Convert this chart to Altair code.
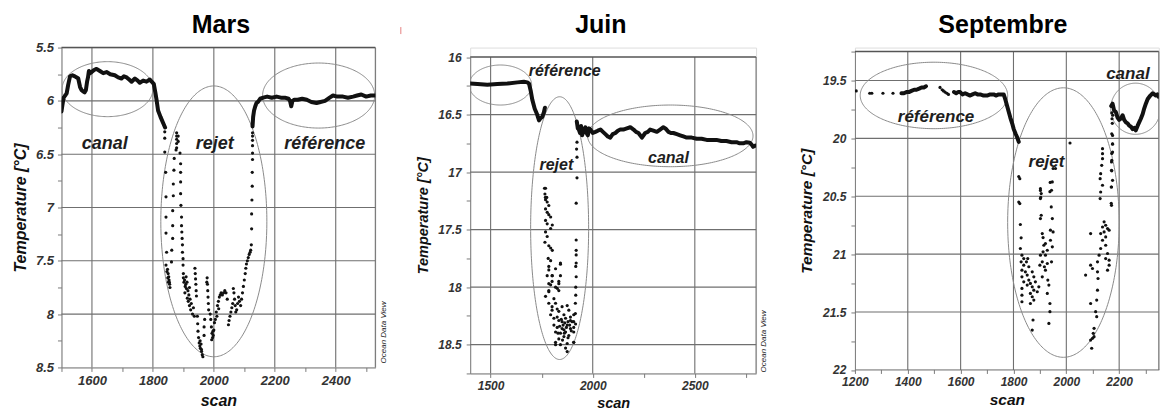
import altair as alt
import numpy as np
import pandas as pd

FONT = "Liberation Sans"
INK = "#111111"
GRID = "#6f6f6f"

# ---------------- Mars ----------------
mars_canal_scan = [1500, 1503, 1507, 1512, 1517, 1522, 1528, 1536, 1544, 1550,
                   1555, 1561, 1566, 1571, 1576, 1580, 1584, 1587, 1590, 1594,
                   1599, 1607, 1615, 1626, 1637, 1648, 1660, 1675, 1686, 1697,
                   1705, 1714, 1722, 1730, 1741, 1750, 1757, 1768, 1779, 1790,
                   1796, 1803, 1808, 1812, 1817, 1825, 1834, 1840]
mars_canal_temp = [6.10, 6.04, 5.97, 5.95, 5.93, 5.85, 5.77, 5.76, 5.77, 5.78,
                   5.79, 5.87, 5.90, 5.91, 5.92, 5.90, 5.82, 5.78, 5.72, 5.74,
                   5.73, 5.71, 5.70, 5.72, 5.74, 5.73, 5.75, 5.76, 5.78, 5.79,
                   5.77, 5.78, 5.80, 5.82, 5.79, 5.81, 5.83, 5.81, 5.82, 5.80,
                   5.82, 5.84, 5.92, 5.99, 6.09, 6.15, 6.21, 6.25]
mars_ref_scan = [2127, 2129, 2132, 2136, 2140, 2145, 2152, 2162, 2175, 2190,
                 2206, 2220, 2233, 2245, 2250, 2254, 2258, 2264, 2275, 2290,
                 2305, 2320, 2337, 2350, 2365, 2380, 2391, 2405, 2424, 2440,
                 2457, 2470, 2484, 2500, 2515, 2530]
mars_ref_temp = [6.24, 6.15, 6.09, 6.05, 6.02, 6.01, 5.98, 5.97, 5.96, 5.97,
                 5.96, 5.97, 5.97, 5.98, 6.00, 6.05, 6.00, 5.99, 5.99, 5.98,
                 5.99, 6.01, 6.02, 6.01, 6.00, 5.97, 5.95, 5.96, 5.96, 5.97,
                 5.96, 5.95, 5.94, 5.96, 5.95, 5.95]
mars_rejet = [
    (1839, 6.29), (1839, 6.35), (1839, 6.48), (1842, 6.67), (1843, 6.90), (1843, 7.09),
    (1843, 7.24), (1845, 7.42), (1843, 7.54), (1848, 7.58), (1850, 7.62), (1852, 7.65),
    (1853, 7.68), (1854, 7.70), (1855, 7.72), (1856, 7.75), (1851, 7.70), (1849, 7.66),
    (1846, 7.60),
    (1865, 7.03), (1865, 7.17), (1865, 7.29), (1862, 7.40), (1861, 7.51), (1867, 6.89),
    (1867, 6.78), (1869, 6.65), (1870, 6.54), (1878, 6.30), (1878, 6.33), (1878, 6.36),
    (1878, 6.40), (1878, 6.44), (1883, 6.33), (1883, 6.38), (1876, 6.46),
    (1889, 6.49), (1891, 6.59), (1891, 6.67), (1891, 6.76), (1891, 6.87), (1892, 6.98),
    (1894, 7.09), (1894, 7.17), (1895, 7.23), (1896, 7.29), (1897, 7.35), (1897, 7.42),
    (1899, 7.48), (1899, 7.54), (1900, 7.62),
    (1900, 7.66), (1902, 7.70), (1904, 7.68), (1906, 7.74), (1908, 7.72), (1910, 7.76),
    (1905, 7.80), (1912, 7.70), (1915, 7.78), (1918, 7.82), (1909, 7.65), (1913, 7.85),
    (1920, 7.75), (1916, 7.88), (1920, 7.92), (1924, 7.96), (1926, 7.90), (1930, 8.00),
    (1933, 7.94), (1936, 8.02), (1922, 7.86),
    (1938, 7.57), (1939, 7.62), (1940, 7.67), (1941, 7.72), (1942, 7.78), (1943, 7.83),
    (1946, 8.02), (1947, 8.09), (1948, 8.16), (1950, 8.22), (1952, 8.27), (1954, 8.30),
    (1956, 8.32), (1958, 8.28), (1960, 8.35), (1962, 8.38), (1964, 8.40), (1955, 8.25),
    (1959, 8.33), (1968, 8.12), (1968, 8.20), (1970, 8.05),
    (1978, 7.66), (1979, 7.72), (1980, 7.78), (1981, 7.84), (1982, 7.90), (1983, 7.96),
    (1977, 7.70), (1988, 8.00), (1990, 8.05), (1992, 8.12), (1994, 8.18), (1996, 8.22),
    (1998, 8.20), (2000, 8.15), (2002, 8.08), (1993, 8.24), (1997, 8.16),
    (2005, 8.05), (2008, 7.98), (2012, 7.92), (2015, 7.88), (2018, 7.84), (2021, 7.82),
    (2024, 7.80), (2010, 8.02), (2016, 7.95), (2028, 7.82), (2032, 7.80), (2036, 7.78),
    (2040, 7.80), (2044, 7.86), (2048, 8.10), (2050, 8.06), (2053, 8.02), (2056, 7.98),
    (2059, 7.94), (2062, 7.90), (2064, 7.76), (2066, 7.80), (2068, 7.86), (2070, 7.92),
    (2072, 7.98), (2075, 7.96), (2078, 7.90), (2081, 7.84), (2084, 7.88),
    (2088, 7.92), (2091, 7.86), (2094, 7.80), (2097, 7.74), (2100, 7.68), (2103, 7.62),
    (2105, 7.57), (2107, 7.53), (2110, 7.50), (2113, 7.47), (2116, 7.44), (2119, 7.42),
    (2121, 7.40), (2123, 7.35), (2124, 7.20), (2124, 7.06), (2125, 6.93), (2126, 6.80),
    (2126, 6.67), (2127, 6.55), (2127, 6.49), (2127, 6.42), (2127, 6.37), (2127, 6.33),
    (2127, 6.30),
]
mars_ellipses = [(1651, 5.89, 149, 0.258), (2000, 7.13, 174, 1.27), (2344, 5.95, 184, 0.305)]
mars_labels = [("canal", 1642, 6.453), ("rejet", 2003, 6.453), ("référence", 2364, 6.453)]

# ---------------- Juin ----------------
juin_ref_scan = [1400, 1436, 1484, 1533, 1582, 1631, 1663, 1680, 1688, 1696,
                 1704, 1716, 1728, 1737, 1745, 1753, 1761, 1766]
juin_ref_temp = [16.23, 16.235, 16.24, 16.235, 16.23, 16.22, 16.215, 16.22, 16.23, 16.29,
                 16.37, 16.45, 16.50, 16.55, 16.53, 16.52, 16.48, 16.44]
juin_canal_scan = [1922, 1927, 1932, 1938, 1943, 1948, 1956, 1964, 1970, 1976,
                   1982, 1989, 2000, 2013, 2025, 2038, 2050, 2062, 2074, 2086,
                   2098, 2111, 2123, 2135, 2150, 2167, 2184, 2200, 2212, 2224,
                   2241, 2257, 2270, 2281, 2297, 2314, 2330, 2346, 2356, 2371,
                   2383, 2395, 2412, 2428, 2444, 2460, 2485, 2509, 2533, 2558,
                   2582, 2606, 2630, 2655, 2680, 2704, 2720, 2737, 2753, 2769,
                   2778, 2785, 2795]
juin_canal_temp = [16.56, 16.62, 16.63, 16.66, 16.60, 16.68, 16.64, 16.61, 16.66, 16.68,
                   16.62, 16.63, 16.66, 16.65, 16.64, 16.63, 16.65, 16.67, 16.69, 16.70,
                   16.67, 16.66, 16.64, 16.63, 16.63, 16.62, 16.61, 16.63, 16.65, 16.66,
                   16.70, 16.66, 16.65, 16.63, 16.64, 16.65, 16.63, 16.61, 16.62, 16.65,
                   16.66, 16.66, 16.67, 16.68, 16.69, 16.70, 16.70, 16.71, 16.71, 16.72,
                   16.72, 16.72, 16.73, 16.73, 16.74, 16.74, 16.75, 16.75, 16.74, 16.745,
                   16.76, 16.78, 16.77]
juin_rejet = [
    (1923, 16.74), (1921, 16.80), (1923, 16.87), (1923, 17.05), (1919, 17.27), (1919, 17.59),
    (1919, 17.68), (1919, 17.72), (1919, 17.79), (1917, 17.82), (1919, 17.91), (1917, 18.00),
    (1917, 18.07), (1915, 18.14), (1915, 18.23), (1907, 18.30), (1907, 18.48),
    (1764, 17.14), (1766, 17.19), (1768, 17.22), (1775, 17.22), (1769, 17.14), (1769, 17.24),
    (1777, 17.26), (1785, 17.29), (1769, 17.32), (1777, 17.35), (1785, 17.37), (1794, 17.39),
    (1769, 17.42), (1777, 17.45), (1802, 17.46), (1794, 17.49), (1769, 17.52), (1777, 17.56),
    (1766, 17.61), (1785, 17.64), (1794, 17.66), (1802, 17.68), (1782, 17.75), (1794, 17.77),
    (1842, 17.80), (1785, 17.82), (1818, 17.84), (1802, 17.90), (1842, 17.90), (1794, 17.98),
    (1818, 18.00), (1834, 17.97), (1834, 18.03), (1785, 18.04),
    (1785, 17.85), (1801, 17.90), (1842, 17.79), (1785, 17.97), (1801, 17.95), (1834, 17.95),
    (1785, 18.03), (1826, 18.01), (1810, 18.10), (1785, 18.14), (1801, 18.17), (1818, 18.14),
    (1826, 18.19), (1794, 18.24), (1834, 18.21), (1850, 18.17), (1875, 18.16), (1883, 18.20),
    (1859, 18.24), (1810, 18.27), (1834, 18.29), (1850, 18.30), (1867, 18.27), (1891, 18.26),
    (1907, 18.24), (1899, 18.30), (1875, 18.33), (1850, 18.36), (1826, 18.35), (1810, 18.33),
    (1818, 18.39), (1842, 18.40), (1867, 18.39), (1891, 18.36), (1907, 18.35), (1907, 18.39),
    (1883, 18.42), (1859, 18.43), (1834, 18.45), (1818, 18.48), (1818, 18.50), (1842, 18.50),
    (1875, 18.49), (1867, 18.53), (1875, 18.56), (1907, 18.48), (1859, 18.37), (1891, 18.29),
    (1916, 18.32), (1826, 18.26), (1801, 18.20), (1769, 18.08), (1777, 17.90),
    (1855, 18.33), (1863, 18.31), (1871, 18.35), (1879, 18.30), (1887, 18.33), (1895, 18.38),
    (1846, 18.28), (1838, 18.34), (1830, 18.40), (1861, 18.40), (1879, 18.44), (1852, 18.46),
]
juin_ellipses = [(1548, 16.243, 153, 0.174), (1838, 17.487, 142, 1.142), (2380, 16.685, 405, 0.268)]
juin_labels = [("référence", 1863, 16.165), ("rejet", 1822, 16.983), ("canal", 2371, 16.919)]

# ---------------- Septembre ----------------
sept_ref_a_scan = [1376, 1385, 1395, 1404, 1414, 1424, 1433, 1443, 1452, 1461, 1469]
sept_ref_a_temp = [19.61, 19.61, 19.60, 19.60, 19.59, 19.58, 19.58, 19.57, 19.56, 19.56, 19.55]
sept_ref_b_scan = [1575, 1583, 1590, 1598, 1607, 1617, 1626, 1636, 1645, 1655,
                   1664, 1674, 1687, 1700, 1712, 1725, 1735, 1744, 1754, 1763,
                   1770, 1776, 1782, 1788, 1795, 1801, 1808, 1814, 1820]
sept_ref_b_temp = [19.60, 19.61, 19.60, 19.60, 19.62, 19.61, 19.62, 19.63, 19.62, 19.61,
                   19.62, 19.62, 19.63, 19.63, 19.62, 19.62, 19.63, 19.62, 19.62, 19.62,
                   19.67, 19.72, 19.77, 19.82, 19.87, 19.92, 19.96, 19.99, 20.03]
sept_canal_scan = [2170, 2175, 2181, 2187, 2194, 2200, 2206, 2213, 2219, 2225,
                   2232, 2238, 2245, 2251, 2257, 2263, 2270, 2276, 2282, 2289,
                   2295, 2301, 2308, 2318, 2327, 2333, 2339, 2345, 2349]
sept_canal_temp = [19.72, 19.70, 19.76, 19.77, 19.82, 19.84, 19.83, 19.80, 19.84, 19.86,
                   19.87, 19.89, 19.90, 19.92, 19.91, 19.93, 19.89, 19.86, 19.83, 19.79,
                   19.74, 19.70, 19.66, 19.63, 19.61, 19.62, 19.63, 19.62, 19.64]
sept_dots = [
    (1205, 19.59), (1256, 19.61), (1264, 19.61), (1306, 19.61), (1344, 19.61),
    (1522, 19.56), (1530, 19.58), (1535, 19.59), (1541, 19.60), (1548, 19.61), (1554, 19.62),
    (2172, 19.78), (2173, 19.83), (2174, 19.87), (2176, 19.80),
    (1824, 20.348), (1824, 20.563), (1826, 20.744), (1829, 20.859), (1826, 20.951),
    (1832, 21.009), (1839, 21.038), (1829, 21.066), (1839, 21.095), (1849, 21.066),
    (1832, 21.138), (1845, 21.153), (1852, 21.181), (1832, 21.196), (1839, 21.239),
    (1858, 21.224), (1864, 21.253), (1852, 21.267), (1832, 21.296), (1871, 21.282),
    (1864, 21.339), (1877, 21.311), (1832, 21.354), (1871, 21.368), (1877, 21.397),
    (1832, 21.411), (1864, 21.426), (1890, 21.325), (1896, 21.282), (1874, 21.569),
    (1871, 21.656), (1877, 21.196), (1883, 21.239), (1871, 21.153), (1858, 21.109),
    (1854, 21.038), (1820, 20.33), (1820, 20.55),
    (1902, 20.434), (1905, 20.477), (1902, 20.520), (1902, 20.693), (1905, 20.664),
    (1909, 20.822), (1912, 20.857), (1915, 20.923), (1912, 20.980), (1902, 21.009),
    (1921, 21.009), (1909, 21.066), (1900, 21.095), (1917, 21.109), (1928, 21.081),
    (1921, 21.138), (1909, 21.196), (1930, 21.224), (1934, 21.267), (1928, 21.339),
    (1938, 21.426), (1938, 21.497), (1934, 21.598), (1947, 20.376), (1944, 20.448),
    (1943, 20.592), (1947, 20.693), (1940, 20.793), (1950, 20.808), (1947, 20.937),
    (1940, 20.880), (1944, 21.066), (1928, 20.966), (1921, 20.908), (1959, 20.26),
    (1950, 20.26), (1939, 20.38), (1938, 20.46), (1902, 20.45), (1903, 20.51),
    (2014, 20.04),
    (2137, 20.089), (2137, 20.132), (2137, 20.175), (2134, 20.233), (2130, 20.305),
    (2128, 20.348), (2137, 20.405), (2130, 20.463), (2128, 20.520), (2175, 19.974),
    (2175, 20.046), (2175, 20.118), (2171, 20.204), (2171, 20.276), (2175, 20.362),
    (2171, 20.420), (2171, 20.578), (2143, 20.721), (2149, 20.750), (2137, 20.765),
    (2156, 20.779), (2143, 20.808), (2130, 20.822), (2149, 20.851), (2162, 20.793),
    (2092, 20.822), (2137, 20.880), (2149, 20.923), (2130, 20.951), (2156, 20.994),
    (2149, 21.038), (2162, 21.052), (2162, 21.095), (2156, 21.138), (2124, 21.009),
    (2118, 21.066), (2092, 21.095), (2099, 21.124), (2073, 21.181), (2118, 21.153),
    (2120, 21.210), (2118, 21.311), (2092, 21.426), (2115, 21.397), (2111, 21.497),
    (2115, 21.540), (2105, 21.641), (2102, 21.684), (2099, 21.727), (2096, 21.813),
    (2105, 21.713), (2092, 21.742), (2172, 19.96), (2175, 20.05), (2172, 20.13),
    (2172, 20.19), (2172, 20.28), (2170, 20.42), (2170, 20.56),
]
sept_ellipses = [(1499, 19.629, 279, 0.287), (1989, 20.727, 211, 1.164), (2262, 19.744, 94, 0.221)]
sept_labels = [("référence", 1507, 19.859), ("rejet", 1925, 20.247), ("canal", 2233, 19.486)]


def line_df(segments):
    rows = []
    for sid, (xs, ys) in enumerate(segments):
        for i, (x, y) in enumerate(zip(xs, ys)):
            rows.append({"scan": x, "temp": y, "seg": sid, "i": i})
    return pd.DataFrame(rows)


def ellipse_df(ells):
    t = np.linspace(0, 2 * np.pi, 241)
    rows = []
    for k, (cx, cy, rx, ry) in enumerate(ells):
        for i, tt in enumerate(t):
            rows.append({"scan": cx + rx * np.cos(tt), "temp": cy + ry * np.sin(tt), "e": k, "i": i})
    return pd.DataFrame(rows)


def axis_style(label_size, title_size):
    return dict(
        labelFont=FONT, labelFontSize=label_size, labelFontWeight="bold", labelFontStyle="italic",
        labelColor="#333333", labelFlush=False, labelOverlap=False,
        titleFont=FONT, titleFontSize=title_size, titleFontWeight="bold", titleFontStyle="italic",
        titleColor=INK, domainColor="#7a7a7a", domainWidth=1, tickColor="#7a7a7a",
        tickSize=4, tickWidth=1, grid=False,
    )


def panel(title, title_dx, segs, dots, ells, labels, lab_size, xdom, ydom, yrange,
          width, height, xticks, xstep, yticks, xgrid, ygrid, ylab_pad, ytitle_pad, odv,
          tick_font, axis_title_font, mark=None):
    AX = axis_style(tick_font, axis_title_font)
    xs = alt.Scale(domain=xdom, nice=False, zero=False)
    ys = alt.Scale(domain=ydom, range=yrange, nice=False, zero=False)
    xaxis = alt.Axis(values=xticks, title="scan", labelPadding=3, titlePadding=5,
                     labelExpr=f"datum.value % {xstep} === 0 ? format(datum.value, 'd') : ''", **AX)
    yaxis = alt.Axis(values=yticks, title="Temperature [°C]", labelPadding=ylab_pad,
                     titlePadding=ytitle_pad,
                     labelExpr="abs(datum.value*2 - round(datum.value*2)) < 0.001 ? format(datum.value, '~g') : ''",
                     **AX)
    X = alt.X("scan:Q", scale=xs, axis=xaxis)
    Y = alt.Y("temp:Q", scale=ys, axis=yaxis)

    hgrid = alt.Chart(pd.DataFrame({"temp": ygrid})).mark_rule(color=GRID, strokeWidth=1.1).encode(y=Y)
    vgrid = alt.Chart(pd.DataFrame({"scan": xgrid + [xdom[1]], "temp": ydom[0], "t1": ydom[1]})).mark_rule(
        color=GRID, strokeWidth=1.1).encode(x=X, y=Y, y2="t1:Q")
    top = alt.Chart(pd.DataFrame({"temp": [ydom[0]]})).mark_rule(color="#555555", strokeWidth=1.5).encode(y=Y)
    ell = alt.Chart(ellipse_df(ells)).mark_line(color="#8a8a8a", strokeWidth=1, clip=True).encode(
        x=X, y=Y, detail="e:N", order="i:Q")
    lines = alt.Chart(line_df(segs)).mark_line(color=INK, strokeWidth=4, clip=True,
                                               strokeJoin="round", strokeCap="round").encode(
        x=X, y=Y, detail="seg:N", order="i:Q")
    pts = alt.Chart(pd.DataFrame(dots, columns=["scan", "temp"])).mark_circle(
        color=INK, size=10, opacity=1, clip=True).encode(x=X, y=Y)
    txt = alt.Chart(pd.DataFrame(labels, columns=["txt", "scan", "temp"])).mark_text(
        font=FONT, fontSize=lab_size, fontStyle="italic", fontWeight="bold", color="#1e1e1e",
        baseline="alphabetic").encode(x=X, y=Y, text="txt:N")
    ttl = alt.Chart(pd.DataFrame({"t": [title]})).mark_text(
        font=FONT, fontSize=25, fontWeight="bold", color="black", baseline="alphabetic",
        align="center").encode(x=alt.value(width / 2 + title_dx), y=alt.value(-14.5), text="t:N")
    layers = [hgrid, vgrid, top, ell, lines, pts, txt, ttl]
    if odv is not None:
        odv_t = alt.Chart(pd.DataFrame({"t": ["Ocean Data View"]})).mark_text(
            font=FONT, fontSize=8, fontStyle="italic", angle=270, color="#222222").encode(
            x=alt.value(odv[0]), y=alt.value(odv[1]), text="t:N")
        layers.append(odv_t)
    if mark is not None:
        red = alt.Chart(pd.DataFrame({"k": [0]})).mark_rule(color="#e58080", strokeWidth=1).encode(
            x=alt.value(mark[0]), y=alt.value(mark[1]), y2=alt.value(mark[2]))
        layers.append(red)
    return alt.layer(*layers).properties(width=width, height=height)


p_mars = panel("Mars", 2.5, [(mars_canal_scan, mars_canal_temp), (mars_ref_scan, mars_ref_temp)],
               mars_rejet, mars_ellipses, mars_labels, 18,
               [1500, 2530], [5.5, 8.5], [0, 320], 314, 320,
               list(range(1500, 2501, 100)), 200, [5.5 + 0.25 * k for k in range(13)],
               [1600, 1800, 2000, 2200, 2400], [6, 6.5, 7, 7.5, 8],
               4, 7, (323, 285), 13, 16, mark=(339.5, -20.5, -13.5))
p_juin = panel("Juin", -12.3, [(juin_ref_scan, juin_ref_temp), (juin_canal_scan, juin_canal_temp)],
               juin_rejet, juin_ellipses, juin_labels, 16,
               [1400, 2800], [16, 18.75], [9.5, 326], 286, 326,
               list(range(1500, 2751, 250)), 500, [16 + 0.25 * k for k in range(12)],
               [1500, 2000, 2500], [16.5, 17, 17.5, 18, 18.5],
               5, 7.3, (294, 294), 12, 14.5)
p_sept = panel("Septembre", -4, [(sept_ref_a_scan, sept_ref_a_temp), (sept_ref_b_scan, sept_ref_b_temp),
                                 (sept_canal_scan, sept_canal_temp)],
               sept_dots, sept_ellipses, sept_labels, 17,
               [1200, 2350], [19.25, 22], [4, 322.5], 304, 322,
               list(range(1200, 2301, 100)), 200, [19.25 + 0.25 * k for k in range(12)],
               [1400, 1600, 1800, 2000, 2200], [19.5, 20, 20.5, 21, 21.5],
               5, 7.8, None, 12, 15.5)

chart = alt.hconcat(alt.hconcat(p_mars, p_juin, spacing=11.9), p_sept, spacing=29.8).properties(
    padding={"left": 11.5, "top": 12.5, "right": 2, "bottom": 2}
).configure_view(strokeWidth=0).configure(background="white")

chart.save("out.html", embed_options={"renderer": "svg", "actions": False})
